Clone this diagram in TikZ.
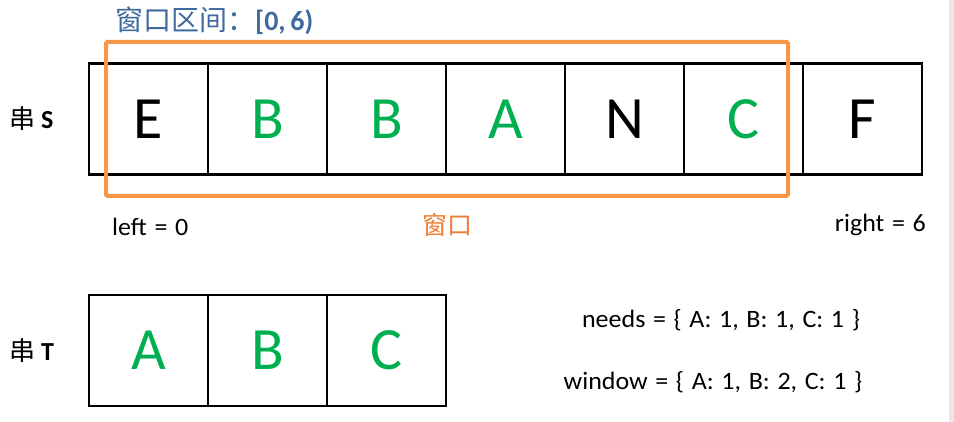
\documentclass[tikz,border=0pt]{standalone}
\usepackage{fontspec}
\setmainfont{Carlito}
\newfontfamily\cjk{Noto Sans CJK SC}
\newfontfamily\lblfont{Carlito}[FakeStretch=1.04,WordSpace=1.3]
\definecolor{okgreen}{RGB}{0,176,80}
\definecolor{winorange}{RGB}{247,150,70}
\definecolor{lblorange}{RGB}{237,125,49}
\definecolor{titleblue}{RGB}{62,106,160}
\begin{document}
\begin{tikzpicture}[x=1pt,y=-1pt,
  cell/.style={draw=black,line width=2.4pt,minimum width=119pt,minimum height=111pt,
    inner sep=0pt,outer sep=0pt,font=\fontsize{60}{60}\selectfont},
  hit/.style={text=okgreen},
  lbl/.style={inner sep=0pt,font=\lblfont\fontsize{25}{25}\selectfont},
  rowlbl/.style={inner sep=0pt,font=\fontsize{26}{26}\selectfont},
  winbox/.style={draw=winorange,line width=4pt,rounded corners=1.5pt,inner sep=0pt}]
\useasboundingbox (0,0) rectangle (954,422);
\fill[black!9] (949,0) rectangle (954,422);
% string S
\node[cell] (s0) at (148.5,119) {E};
\node[cell,hit] (s1) at (267.5,119) {B};
\node[cell,hit] (s2) at (386.5,119) {B};
\node[cell,hit] (s3) at (505.5,119) {A};
\node[cell] (s4) at (624.5,119) {N};
\node[cell,hit] (s5) at (743.5,119) {C};
\node[cell] (s6) at (862.5,119) {F};
% string T
\node[cell,hit] (t0) at (148.5,350.5) {A};
\node[cell,hit] (t1) at (267.5,350.5) {B};
\node[cell,hit] (t2) at (386.5,350.5) {C};
% window
\node[winbox,minimum width=682pt,minimum height=154pt] (win) at (447,119) {};
% labels
\node[rowlbl,anchor=base west] (ls) at (9,129) {{\cjk 串} \textbf{S}};
\node[rowlbl,anchor=base west] (lt) at (9,360) {{\cjk 串} \textbf{T}};
\node[inner sep=0pt,anchor=base west,text=titleblue,font=\fontsize{28}{28}\selectfont] (title) at (115,31) {{\cjk 窗口区间：}\textbf{[0,\,6)}};
\node[lbl,anchor=base west] (left) at (112,236) {left = 0};
\node[lbl,anchor=base east] (right) at (926,232) {right = 6};
\node[inner sep=0pt,text=lblorange,font=\cjk\fontsize{25}{25}\selectfont] (wl) at (447,225) {窗口};
\node[lbl,anchor=base] (needs) at (721,327) {needs = \{ A: 1, B: 1, C: 1 \}};
\node[lbl,anchor=base] (window) at (713,389) {window = \{ A: 1, B: 2, C: 1 \}};
\end{tikzpicture}
\end{document}
